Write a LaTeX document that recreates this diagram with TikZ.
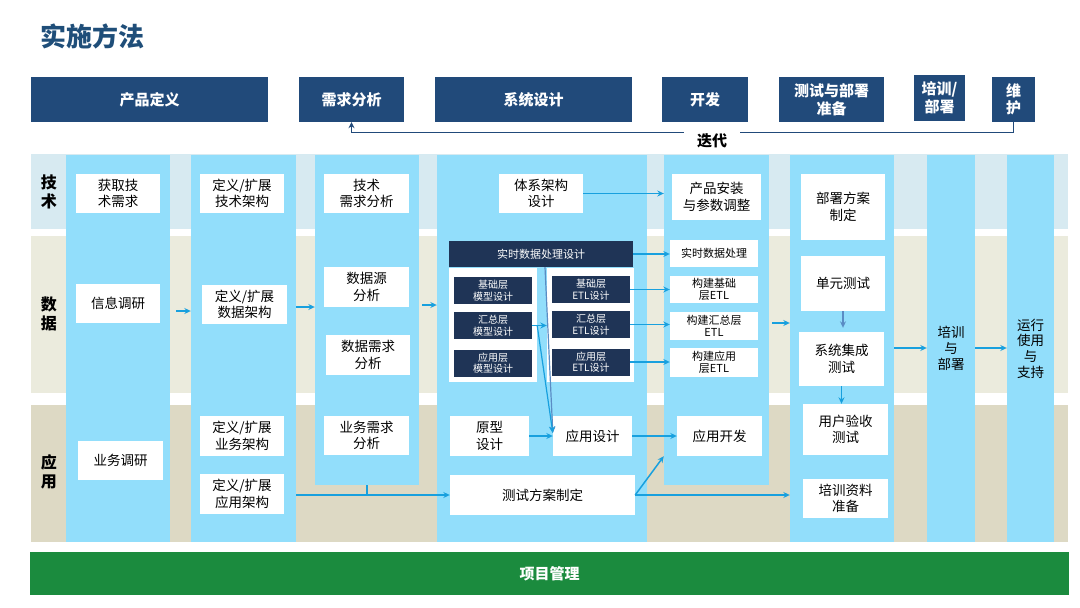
\documentclass[tikz,border=0pt]{standalone}
\usepackage{fontspec}
\setmainfont{Noto Sans CJK SC}
\usetikzlibrary{arrows.meta}

\definecolor{hdrnavy}{RGB}{33,74,122}
\definecolor{deepnavy}{RGB}{31,52,86}
\definecolor{colblue}{RGB}{146,222,251}
\definecolor{techrow}{RGB}{215,234,241}
\definecolor{datarow}{RGB}{235,235,221}
\definecolor{approw}{RGB}{221,217,196}
\definecolor{pmgreen}{RGB}{27,139,62}
\definecolor{flowblue}{RGB}{24,160,222}
\definecolor{steel}{RGB}{90,140,196}
\definecolor{titleblue}{RGB}{31,78,121}

\begin{document}
\begin{tikzpicture}[x=1pt, y=-1pt,
  sz/.style 2 args={minimum width=#1, minimum height=#2},
  hdr/.style={fill=hdrnavy, text=white, inner sep=0, align=center, font=\fontsize{15}{17.5}\selectfont\bfseries},
  col/.style={fill=colblue, inner sep=0, align=center, font=\fontsize{13.5}{15.7}\selectfont},
  wbox/.style={fill=white, inner sep=0, align=center, font=\fontsize{13.5}{16.5}\selectfont},
  sbox/.style={fill=white, inner sep=0, align=center, font=\fontsize{11}{12.5}\selectfont},
  dbox/.style={fill=deepnavy, text=white, inner sep=0, align=center, font=\fontsize{10}{11.5}\selectfont},
  rowlbl/.style={align=center, font=\fontsize{16}{19}\selectfont\bfseries},
  flow/.style={flowblue, line width=1.5pt, -{Stealth[length=6.5pt, width=6pt]}},
]
\useasboundingbox (0,0) rectangle (1080,608);

\node[text=titleblue, font=\fontsize{26}{30}\selectfont\bfseries] (title) at (92,36) {实施方法};

% phases
\node[hdr, sz={237}{45}] (hdef) at (149.5,99.5) {产品定义};
\node[hdr, sz={105}{45}] (hreq) at (351.5,99.5) {需求分析};
\node[hdr, sz={197}{45}] (hsys) at (533.5,99.5) {系统设计};
\node[hdr, sz={86}{45}] (hdev) at (705,99.5) {开发};
\node[hdr, sz={105}{45}] (htest) at (831.5,99.5) {测试与部署\\准备};
\node[hdr, sz={51}{46}] (htrain) at (939.5,98) {培训/\\部署};
\node[hdr, sz={43}{45}] (hmnt) at (1013.5,99.5) {维\\护};

\node[inner sep=0, sz={56}{16}, font=\fontsize{15}{17}\selectfont\bfseries] (iter) at (712,141) {迭代};
\draw[hdrnavy, line width=1.3pt] (hmnt.south) |- (iter.north east);
\draw[hdrnavy, line width=1.3pt, -{Stealth[length=6pt, width=6pt]}] (iter.north west) -| (hreq.south);

% rows
\fill[techrow] (31,154) rectangle (1068,229);
\fill[datarow] (31,236) rectangle (1068,393);
\fill[approw] (31,405) rectangle (1068,542);
\node[rowlbl] (ltech) at (49,192) {技\\术};
\node[rowlbl] (ldata) at (49,314) {数\\据};
\node[rowlbl] (lapp) at (49,472) {应\\用};

% columns
\foreach \n/\x/\w/\b in {1/118/104/542, 2/243.5/105/542, 3/367/104/485, 4/542/210/542, 5/716.5/105/485, 6/842/104/542}
  \node[col, sz={\w}{\b-155}] (col\n) at (\x,{(155+\b)/2}) {};
\node[col, sz={48}{387}] (col7) at (951,348.5) {培训\\与\\部署};
\node[col, sz={47}{387}] (col8) at (1030.5,348.5) {运行\\使用\\与\\支持};

\node[fill=pmgreen, text=white, inner sep=0, sz={1039}{43}, font=\fontsize{15}{17}\selectfont\bfseries] (pm) at (549.5,573.5) {项目管理};

% product definition
\node[wbox, sz={84}{39}] (techreq) at (118,193.5) {获取技\\术需求};
\node[wbox, sz={84}{39}] (info) at (118,303.5) {信息调研};
\node[wbox, sz={85}{39}] (bizres) at (120.5,460.5) {业务调研};
\node[wbox, sz={84}{39}] (deftech) at (242,193.5) {定义/扩展\\技术架构};
\node[wbox, sz={85}{39}] (defdata) at (244.5,304.5) {定义/扩展\\数据架构};
\node[wbox, sz={84}{40}] (defbiz) at (242,436) {定义/扩展\\业务架构};
\node[wbox, sz={84}{40}] (defapp) at (242,494) {定义/扩展\\应用架构};

% requirement analysis
\node[wbox, sz={85}{39}] (techana) at (366.5,193.5) {技术\\需求分析};
\node[wbox, sz={85}{40}] (srcana) at (366.5,287) {数据源\\分析};
\node[wbox, sz={84}{40}] (dataana) at (368,355) {数据需求\\分析};
\node[wbox, sz={85}{39}] (bizana) at (366.5,435.5) {业务需求\\分析};

% system design
\node[wbox, sz={84}{39}] (arch) at (541,193.5) {体系架构\\设计};
\node[dbox, sz={184}{26}, font=\fontsize{11}{13}\selectfont] (rtdes) at (541,254) {实时数据处理设计};
\node[fill=white, sz={88}{114}] (panelL) at (493,325) {};
\node[fill=white, sz={87}{114}] (panelR) at (590.5,325) {};
\foreach \nm/\t/\y in {b/基础层/290.5, s/汇总层/325.5, a/应用层/363} {
  \node[dbox, sz={78}{27}] (mod\nm) at (493,\y) {\t\\模型设计};
  \node[dbox, sz={78}{27}] (etl\nm) at (591,\y-1) {\t\\ETL设计};
}
\node[wbox, sz={79}{40}] (proto) at (489.5,436) {原型\\设计};
\node[wbox, sz={79}{40}] (appdes) at (592.5,436) {应用设计};
\node[wbox, sz={185}{40}] (testplan) at (542.5,495) {测试方案制定};

% development
\node[wbox, sz={89}{46}] (install) at (716.5,197) {产品安装\\与参数调整};
\node[sbox, sz={88}{27}] (rtproc) at (714,253.5) {实时数据处理};
\node[sbox, sz={88}{27}] (bldb) at (714,289.5) {构建基础\\层ETL};
\node[sbox, sz={88}{28}] (blds) at (714,326) {构建汇总层\\ETL};
\node[sbox, sz={88}{29}] (blda) at (714,362.5) {构建应用\\层ETL};
\node[wbox, sz={85}{40}] (appdev) at (719.5,436) {应用开发};

% test and deployment
\node[wbox, sz={84}{66}] (deploy) at (843,207) {部署方案\\制定};
\node[wbox, sz={84}{55}] (unit) at (843,283.5) {单元测试};
\node[wbox, sz={85}{54}] (integ) at (841.5,359) {系统集成\\测试};
\node[wbox, sz={85}{51}] (uat) at (845.5,429.5) {用户验收\\测试};
\node[wbox, sz={85}{39}] (trdoc) at (845.5,498.5) {培训资料\\准备};

% flows between columns
\coordinate (yA) at (0,311);
\coordinate (yB) at (0,307);
\coordinate (yC) at (0,305);
\coordinate (yD) at (0,323);
\coordinate (yE) at (0,348);
\draw[flow, shorten <=6pt] (col1.east |- yA) -- (col2.west |- yA);
\draw[flow] (col2.east |- yB) -- (col3.west |- yB);
\draw[flow, shorten <=3pt] (col3.east |- yC) -- (col4.west |- yC);
\draw[flow, shorten <=3pt] (col5.east |- yD) -- (col6.west |- yD);
\draw[flow] (col6.east |- yE) -- (col7.west |- yE);
\draw[flow] (col7.east |- yE) -- (col8.west |- yE);

% flows inside
\draw[flow] (arch.east) -- (col5.west |- arch.east);
\draw[flow] (rtdes.east) -- (rtdes.east -| rtproc.west);
\draw[flow] (etlb.east) -- (etlb.east -| bldb.west);
\draw[flow] (etls.east) -- (etls.east -| blds.west);
\draw[flow] (etla.east) -- (etla.east -| blda.west);
\draw[flow, line width=1.2pt] (mods.east) -- (mods.east -| panelR.west);
\draw[steel, line width=1.2pt, -{Stealth[length=6.5pt, width=6pt]}] ([xshift=4pt]rtdes.south) -- ([yshift=3pt]appdes.west);
\draw[flow, line width=1.2pt] (panelL.east |- mods.east) -- ([yshift=3pt]appdes.west);
\draw[flow] (proto.east) -- (appdes.west);
\draw[flow] (appdes.east) -- (appdev.west);
\draw[flow] (testplan.east) -- (col5.west |- appdev.south);
\draw[flow] (testplan.east) -- (col6.west |- testplan.east);
\draw[flow] (col2.east |- testplan.west) -- (testplan.west);
\draw[flowblue, line width=1.5pt] (col3.south) -- (col3.south |- testplan.west);
\draw[steel, line width=1.2pt, -{Stealth[length=6.5pt, width=6pt]}, shorten >=4pt] (unit.south) -- (unit.south |- integ.north);
\draw[flow] (integ.south) -- (integ.south |- uat.north);

\end{tikzpicture}
\end{document}
